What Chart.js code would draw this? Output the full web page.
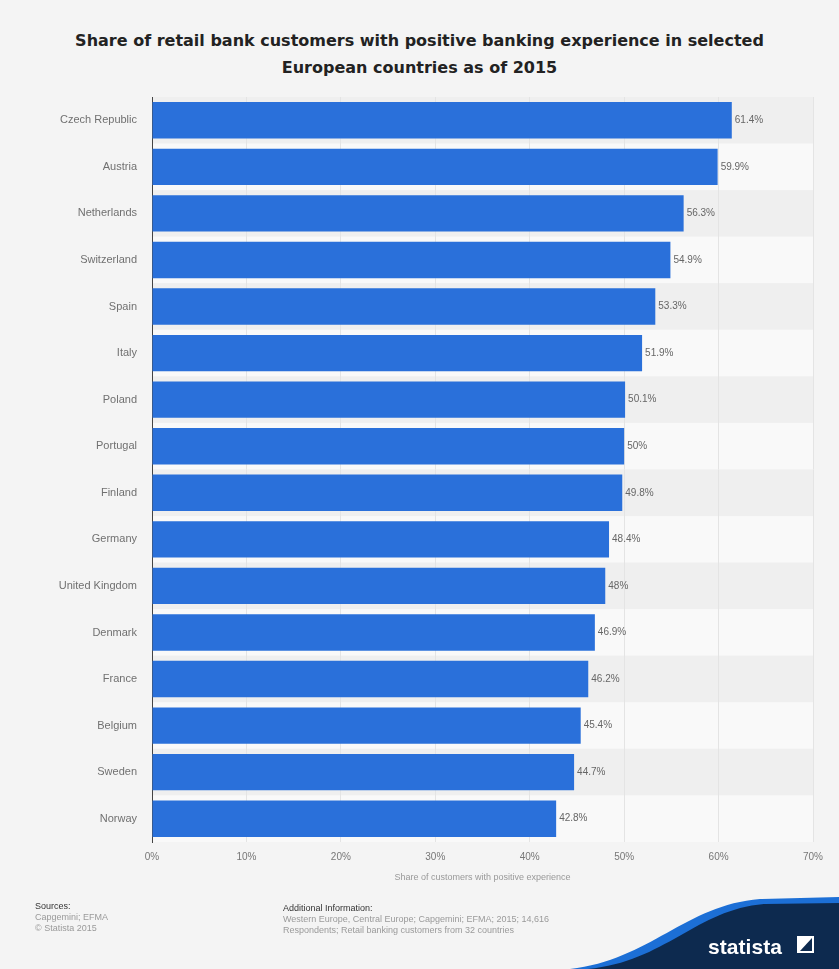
<!DOCTYPE html>
<html>
<head>
<meta charset="utf-8">
<script src="https://cdn.jsdelivr.net/npm/chart.js@4"></script>
<style>
  html, body { margin: 0; padding: 0; }
  body { width: 839px; height: 969px; background: #f4f4f4; position: relative; overflow: hidden; font-family: "DejaVu Sans", sans-serif; }
  #chart { position: absolute; left: 0; top: 0; }
  .title { position: absolute; left: 0; width: 839px; top: 27px; text-align: center; font-weight: bold; font-size: 16px; line-height: 27px; color: #222; }
  .foot { position: absolute; font-family: "Liberation Sans", sans-serif; font-size: 9px; line-height: 11px; color: #9a9a9a; }
  .foot b { font-weight: normal; color: #333; }
  #logo { position: absolute; left: 0; top: 0; }
</style>
</head>
<body>
<div class="title">Share of retail bank customers with positive banking experience in selected<br>European countries as of 2015</div>
<canvas id="chart" width="839" height="969"></canvas>
<div class="foot" style="left:35px; top:901px;"><b>Sources:</b><br>Capgemini; EFMA<br>© Statista 2015</div>
<div class="foot" style="left:283px; top:903px;"><b>Additional Information:</b><br>Western Europe, Central Europe; Capgemini; EFMA; 2015; 14,616<br>Respondents; Retail banking customers from 32 countries</div>
<svg id="logo" width="839" height="969">
  <path d="M570,969 C650,960 685,905 760,899 L839,897 L839,969 Z" fill="#1c6fd6"/>
  <path d="M588,969 C665,962 697,909 765,904 L839,903 L839,969 Z" fill="#0d2a4f"/>
  <text x="708" y="954" font-family="Liberation Sans, sans-serif" font-weight="bold" font-size="21" fill="#ffffff" textLength="74">statista</text>
  <rect x="797" y="936" width="17" height="17" fill="#ffffff"/>
  <path d="M800,951 L812,938 L812,951 Z" fill="#0d2a4f"/>
</svg>
<script>
// chart values
const countries = ['Czech Republic', 'Austria', 'Netherlands', 'Switzerland', 'Spain', 'Italy', 'Poland', 'Portugal',
    'Finland', 'Germany', 'United Kingdom', 'Denmark', 'France', 'Belgium', 'Sweden', 'Norway'];
const shares = [61.4, 59.9, 56.3, 54.9, 53.3, 51.9, 50.1, 50, 49.8, 48.4, 48, 46.9, 46.2, 45.4, 44.7, 42.8];
const xTicks = [0, 10, 20, 30, 40, 50, 60, 70];
const axisTitle = 'Share of customers with positive experience';

// alternating row bands behind the bars
const rowBands = {
    id: 'rowBands',
    beforeDraw(chart) {
        const { ctx, chartArea, scales } = chart;
        const step = (chartArea.bottom - chartArea.top) / countries.length;
        ctx.save();
        countries.forEach((c, i) => {
            const y = scales.y.getPixelForValue(i) - step / 2;
            ctx.fillStyle = i % 2 === 0 ? '#efefef' : '#f9f9f9';
            ctx.fillRect(chartArea.left, y, chartArea.right - chartArea.left, step);
        });
        ctx.restore();
    }
};

// value labels at the end of each bar
const valueLabels = {
    id: 'valueLabels',
    afterDatasetsDraw(chart) {
        const { ctx } = chart;
        const meta = chart.getDatasetMeta(0);
        ctx.save();
        ctx.font = '10px "Liberation Sans", sans-serif';
        ctx.fillStyle = '#666';
        ctx.textBaseline = 'middle';
        meta.data.forEach((bar, i) => {
            ctx.fillText(shares[i] + '%', bar.x + 3, bar.y);
        });
        ctx.restore();
    }
};

new Chart(document.getElementById('chart'), {
    type: 'bar',
    data: {
        labels: countries,
        datasets: [{
            data: shares,
            backgroundColor: '#2a70da',
            categoryPercentage: 1,
            barPercentage: 0.78
        }]
    },
    plugins: [rowBands, valueLabels],
    options: {
        indexAxis: 'y',
        responsive: false,
        animation: false,
        layout: { padding: { top: 97, right: 26, bottom: 79, left: 0 } },
        plugins: {
            legend: { display: false },
            tooltip: { enabled: false }
        },
        scales: {
            x: {
                min: 0,
                max: 70,
                afterBuildTicks: s => { s.ticks = xTicks.map(v => ({ value: v })); },
                afterFit: s => { s.height = 48; },
                grid: { color: '#e4e4e4', drawTicks: false },
                border: { display: false },
                ticks: {
                    padding: 9,
                    color: '#777',
                    font: { family: '"Liberation Sans", sans-serif', size: 10 },
                    callback: v => v + '%'
                },
                title: {
                    display: true,
                    text: axisTitle,
                    color: '#999',
                    padding: { top: 0, bottom: 7 },
                    font: { family: '"Liberation Sans", sans-serif', size: 9 }
                }
            },
            y: {
                afterFit: s => { s.width = 152; },
                grid: { display: false, drawTicks: false },
                border: { display: true, color: '#444', width: 1 },
                ticks: {
                    padding: 15,
                    color: '#707070',
                    font: { family: '"Liberation Sans", sans-serif', size: 11 }
                }
            }
        }
    }
});
</script>
</body>
</html>
